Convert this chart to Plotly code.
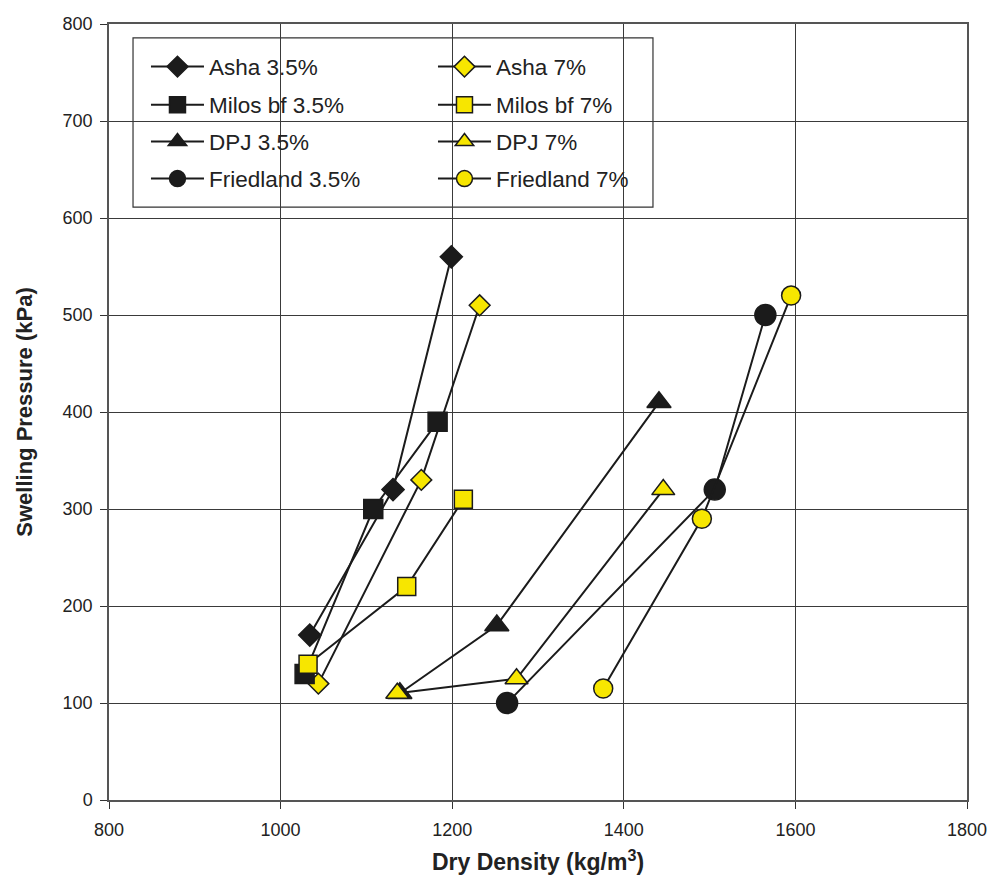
import plotly.graph_objects as go

# ---- data ----
asha35_x = [1034, 1131, 1199]
asha35_y = [170, 320, 560]
asha7_x = [1044, 1164, 1232]
asha7_y = [120, 330, 510]
milos35_x = [1028, 1108, 1183]
milos35_y = [130, 300, 390]
milos7_x = [1032, 1147, 1213]
milos7_y = [140, 220, 310]
dpj35_x = [1139, 1252, 1441]
dpj35_y = [110, 180, 410]
dpj7_x = [1136, 1275, 1446]
dpj7_y = [110, 125, 320]
fried35_x = [1264, 1506, 1565]
fried35_y = [100, 320, 500]
fried7_x = [1376, 1491, 1595]
fried7_y = [115, 290, 520]

x_ticks = [800, 1000, 1200, 1400, 1600, 1800]
y_ticks = [0, 100, 200, 300, 400, 500, 600, 700, 800]

BLACK = "#1b1b1b"
YELLOW = "#F7E600"
FONT = "Liberation Sans, Arial, sans-serif"

series = [
    ("Asha 3.5%", asha35_x, asha35_y, "diamond", 17, BLACK, "legend"),
    ("Asha 7%", asha7_x, asha7_y, "diamond", 16, YELLOW, "legend"),
    ("Milos bf 3.5%", milos35_x, milos35_y, "square", 19, BLACK, "legend2"),
    ("Milos bf 7%", milos7_x, milos7_y, "square", 18, YELLOW, "legend2"),
    ("DPJ 3.5%", dpj35_x, dpj35_y, "triangle-up", 21, BLACK, "legend3"),
    ("DPJ 7%", dpj7_x, dpj7_y, "triangle-up", 20, YELLOW, "legend3"),
    ("Friedland 3.5%", fried35_x, fried35_y, "circle", 21, BLACK, "legend4"),
    ("Friedland 7%", fried7_x, fried7_y, "circle", 19, YELLOW, "legend4"),
]

fig = go.Figure()
for name, xs, ys, sym, size, col, leg in series:
    fig.add_trace(go.Scatter(
        x=xs, y=ys, name=name, mode="lines+markers",
        line=dict(color=BLACK, width=2),
        marker=dict(symbol=sym, size=size, color=col,
                    line=dict(color=BLACK, width=1.5)),
        legend=leg,
    ))

row_y = [0.9446, 0.8956, 0.848, 0.8003]
leg_common = dict(
    orientation="h", x=0.0431, xanchor="left", yanchor="middle",
    bgcolor="rgba(0,0,0,0)", borderwidth=0,
    font=dict(family=FONT, size=22.5, color="#222"),
    itemwidth=53,
    entrywidth=219, entrywidthmode="pixels", itemclick=False,
)

fig.update_layout(
    width=989, height=879,
    margin=dict(l=109, r=22, t=24, b=79),
    paper_bgcolor="white", plot_bgcolor="white",
    font=dict(family=FONT, color="#222"),
    legend=dict(y=row_y[0], **leg_common),
    legend2=dict(y=row_y[1], **leg_common),
    legend3=dict(y=row_y[2], **leg_common),
    legend4=dict(y=row_y[3], **leg_common),
    shapes=[dict(type="rect", xref="paper", yref="paper",
                 x0=0.028, x1=0.634, y0=0.764, y1=0.982,
                 fillcolor="white", line=dict(color="#333", width=1.2),
                 layer="between")],
)

fig.update_xaxes(
    range=[800, 1800], tickvals=x_ticks, ticktext=[str(v) for v in x_ticks],
    showgrid=True, gridcolor="#3a3a3a", gridwidth=1,
    showline=True, linecolor="#555", linewidth=1.5, mirror=True,
    ticks="outside", ticklen=7, tickcolor="#333",
    tickfont=dict(family=FONT, size=18, color="#222"),
    ticklabelstandoff=6,
    title=dict(text="<b>Dry Density (kg/m<sup>3</sup>)</b>",
               font=dict(family=FONT, size=23, color="#222"), standoff=15),
    automargin=False, zeroline=False,
)
fig.update_yaxes(
    range=[0, 800], tickvals=y_ticks, ticktext=[str(v) for v in y_ticks],
    showgrid=True, gridcolor="#3a3a3a", gridwidth=1,
    showline=True, linecolor="#555", linewidth=1.5, mirror=True,
    ticks="outside", ticklen=7, tickcolor="#333",
    tickfont=dict(family=FONT, size=18, color="#222"),
    ticklabelstandoff=4,
    title=dict(text="<b>Swelling Pressure (kPa)</b>",
               font=dict(family=FONT, size=22, color="#222"), standoff=24),
    automargin=False, zeroline=False,
)

fig.write_html("out.html",
               config={"displayModeBar": False},
               post_script="document.body.style.margin='0';document.body.style.overflow='hidden';")
